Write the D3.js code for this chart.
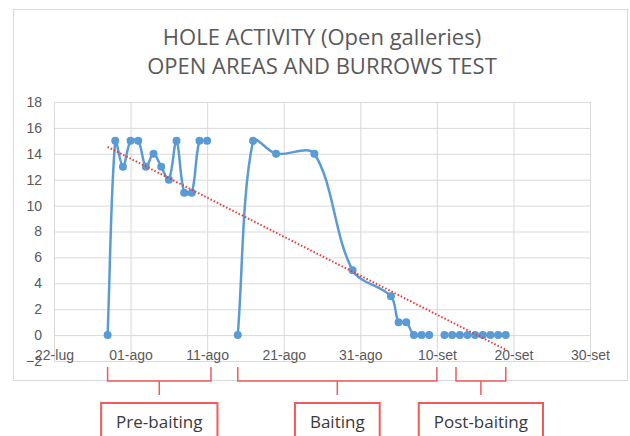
<!DOCTYPE html>
<html>
<head>
<meta charset="utf-8">
<script src="https://cdn.jsdelivr.net/npm/d3@7"></script>
<style>
  body { margin: 0; background: #fff; }
  svg { display: block; font-family: "Open Sans", sans-serif; }
  .grid line { stroke: #d9d9d9; stroke-width: 1; }
  .grid text { fill: #595959; font-size: 14px; }
</style>
</head>
<body>
<svg width="630" height="436"></svg>
<script>
// daily readings, null = blank row (breaks the line)
const dates = [
  "2024-07-29", "2024-07-30", "2024-07-31", "2024-08-01", "2024-08-02", "2024-08-03", "2024-08-04",
  "2024-08-05", "2024-08-06", "2024-08-07", "2024-08-08", "2024-08-09", "2024-08-10", "2024-08-11",
  "2024-08-12",
  "2024-08-15", "2024-08-17", "2024-08-20", "2024-08-25", "2024-08-30", "2024-09-04", "2024-09-05",
  "2024-09-06", "2024-09-07", "2024-09-08", "2024-09-09",
  "2024-09-10",
  "2024-09-11", "2024-09-12", "2024-09-13", "2024-09-14", "2024-09-15", "2024-09-16", "2024-09-17",
  "2024-09-18", "2024-09-19"
];
const holes = [
  0, 15, 13, 15, 15, 13, 14,
  13, 12, 15, 11, 11, 15, 15,
  null,
  0, 15, 14, 14, 5, 3, 1,
  1, 0, 0, 0,
  null,
  0, 0, 0, 0, 0, 0, 0,
  0, 0
];
const tickDates = ["2024-07-22", "2024-08-01", "2024-08-11", "2024-08-21", "2024-08-31", "2024-09-10", "2024-09-20", "2024-09-30"];
const tickLabels = ["22-lug", "01-ago", "11-ago", "21-ago", "31-ago", "10-set", "20-set", "30-set"];
const yTicks = [-2, 0, 2, 4, 6, 8, 10, 12, 14, 16, 18];
const phaseNames = ["Pre-baiting", "Baiting", "Post-baiting"];
const phaseStart = ["2024-07-29", "2024-08-15", "2024-09-12T12:00"];
const phaseEnd = ["2024-08-11T12:00", "2024-09-10", "2024-09-19"];
const titleLines = ["HOLE ACTIVITY (Open galleries)", "OPEN AREAS AND BURROWS TEST"];

const parse = d3.isoParse;
const data = dates.map((d, i) => ({ date: parse(d), value: holes[i] }));

const svg = d3.select("svg");
const plot = { left: 54, right: 590, top: 102, bottom: 361 };

svg.append("rect")
    .attr("x", 13.5).attr("y", 9.5)
    .attr("width", 614).attr("height", 371)
    .attr("fill", "#fff")
    .attr("stroke", "#d9d9d9");

svg.selectAll(".title")
    .data(titleLines)
    .enter().append("text")
    .attr("class", "title")
    .attr("x", 322)
    .attr("y", (d, i) => 45 + i * 29)
    .attr("text-anchor", "middle")
    .attr("fill", "#595959")
    .attr("font-size", 22)
    .text(d => d);

var x = d3.scaleTime()
    .domain([parse(tickDates[0]), parse(tickDates[tickDates.length - 1])])
    .range([plot.left, plot.right]);

var y = d3.scaleLinear()
    .domain([-2, 18])
    .range([plot.bottom, plot.top]);

var yAxis = d3.axisLeft(y)
    .tickValues(yTicks)
    .tickSize(-(plot.right - plot.left))
    .tickPadding(12);

var xAxis = d3.axisBottom(x)
    .tickValues(tickDates.map(parse))
    .tickFormat((d, i) => tickLabels[i])
    .tickSize(-(plot.bottom - plot.top))
    .tickPadding(-11);

var gY = svg.append("g")
    .attr("class", "grid")
    .attr("transform", `translate(${plot.left},0)`)
    .call(yAxis);
gY.select(".domain").remove();
gY.selectAll("text").attr("font-size", 12.5);

var gX = svg.append("g")
    .attr("class", "grid")
    .attr("transform", `translate(0,${plot.bottom})`)
    .call(xAxis);
gX.select(".domain").remove();

// linear trend over all readings
const pts = data.filter(d => d.value != null);
const day = d => d.date / 864e5;
const mx = d3.mean(pts, day), my = d3.mean(pts, d => d.value);
const slope = d3.sum(pts, d => (day(d) - mx) * (d.value - my)) / d3.sum(pts, d => (day(d) - mx) ** 2);
const trend = d => my + slope * (day(d) - mx);
const ends = [pts[0], pts[pts.length - 1]];

// spreadsheet-like smoothing: neighbour tangents weighted by segment lengths
function smoothCurve(context) {
    let p = [];
    const dist = (a, b) => Math.hypot(b[0] - a[0], b[1] - a[1]);
    return {
        areaStart() {}, areaEnd() {},
        lineStart() { p = []; },
        point(px, py) { p.push([+px, +py]); },
        lineEnd() {
            if (!p.length) return;
            context.moveTo(p[0][0], p[0][1]);
            for (let i = 0; i < p.length - 1; i++) {
                const p0 = p[i - 1] || p[i], p1 = p[i], p2 = p[i + 1], p3 = p[i + 2] || p[i + 1];
                const l01 = dist(p0, p1), l12 = dist(p1, p2), l23 = dist(p2, p3);
                const k1 = l12 / (l01 + l12) / 3, k2 = l12 / (l12 + l23) / 3;
                context.bezierCurveTo(
                    p1[0] + (p2[0] - p0[0]) * k1, p1[1] + (p2[1] - p0[1]) * k1,
                    p2[0] - (p3[0] - p1[0]) * k2, p2[1] - (p3[1] - p1[1]) * k2,
                    p2[0], p2[1]);
            }
        }
    };
}

let line = d3.line()
    .defined(d => d.value != null)
    .curve(smoothCurve)
    .x(d => x(d.date))
    .y(d => y(d.value));

svg.append("path")
    .datum(data)
    .attr("d", line)
    .attr("fill", "none")
    .attr("stroke", "#5b9bd5")
    .attr("stroke-width", 2.5);

svg.selectAll(".dot")
    .data(pts)
    .enter().append("circle")
    .attr("class", "dot")
    .attr("cx", d => x(d.date))
    .attr("cy", d => y(d.value))
    .attr("r", 4)
    .attr("fill", "#5b9bd5");

svg.append("line")
    .attr("x1", x(ends[0].date)).attr("y1", y(trend(ends[0])))
    .attr("x2", x(ends[1].date)).attr("y2", y(trend(ends[1])))
    .attr("stroke", "#e8393a")
    .attr("stroke-width", 2)
    .attr("stroke-dasharray", "1.5,2");

// phase brackets
const red = "#ef5b5b";
phaseNames.forEach((name, i) => {
    const x0 = x(parse(phaseStart[i])), x1 = x(parse(phaseEnd[i]));
    const xm = (x0 + x1) / 2;
    svg.append("path")
        .attr("d", `M${x0},367V381H${x1}V367M${xm},381V395`)
        .attr("fill", "none")
        .attr("stroke", red)
        .attr("stroke-width", 1.5);
    const label = svg.append("text")
        .attr("x", xm)
        .attr("y", 428)
        .attr("text-anchor", "middle")
        .attr("fill", "#3a3a3a")
        .attr("font-size", 17)
        .text(name);
    const w = label.node().getComputedTextLength() + 30;
    svg.insert("rect", () => label.node())
        .attr("x", xm - w / 2)
        .attr("y", 403)
        .attr("width", w)
        .attr("height", 40)
        .attr("fill", "#fff")
        .attr("stroke", red)
        .attr("stroke-width", 2);
});
</script>
</body>
</html>
